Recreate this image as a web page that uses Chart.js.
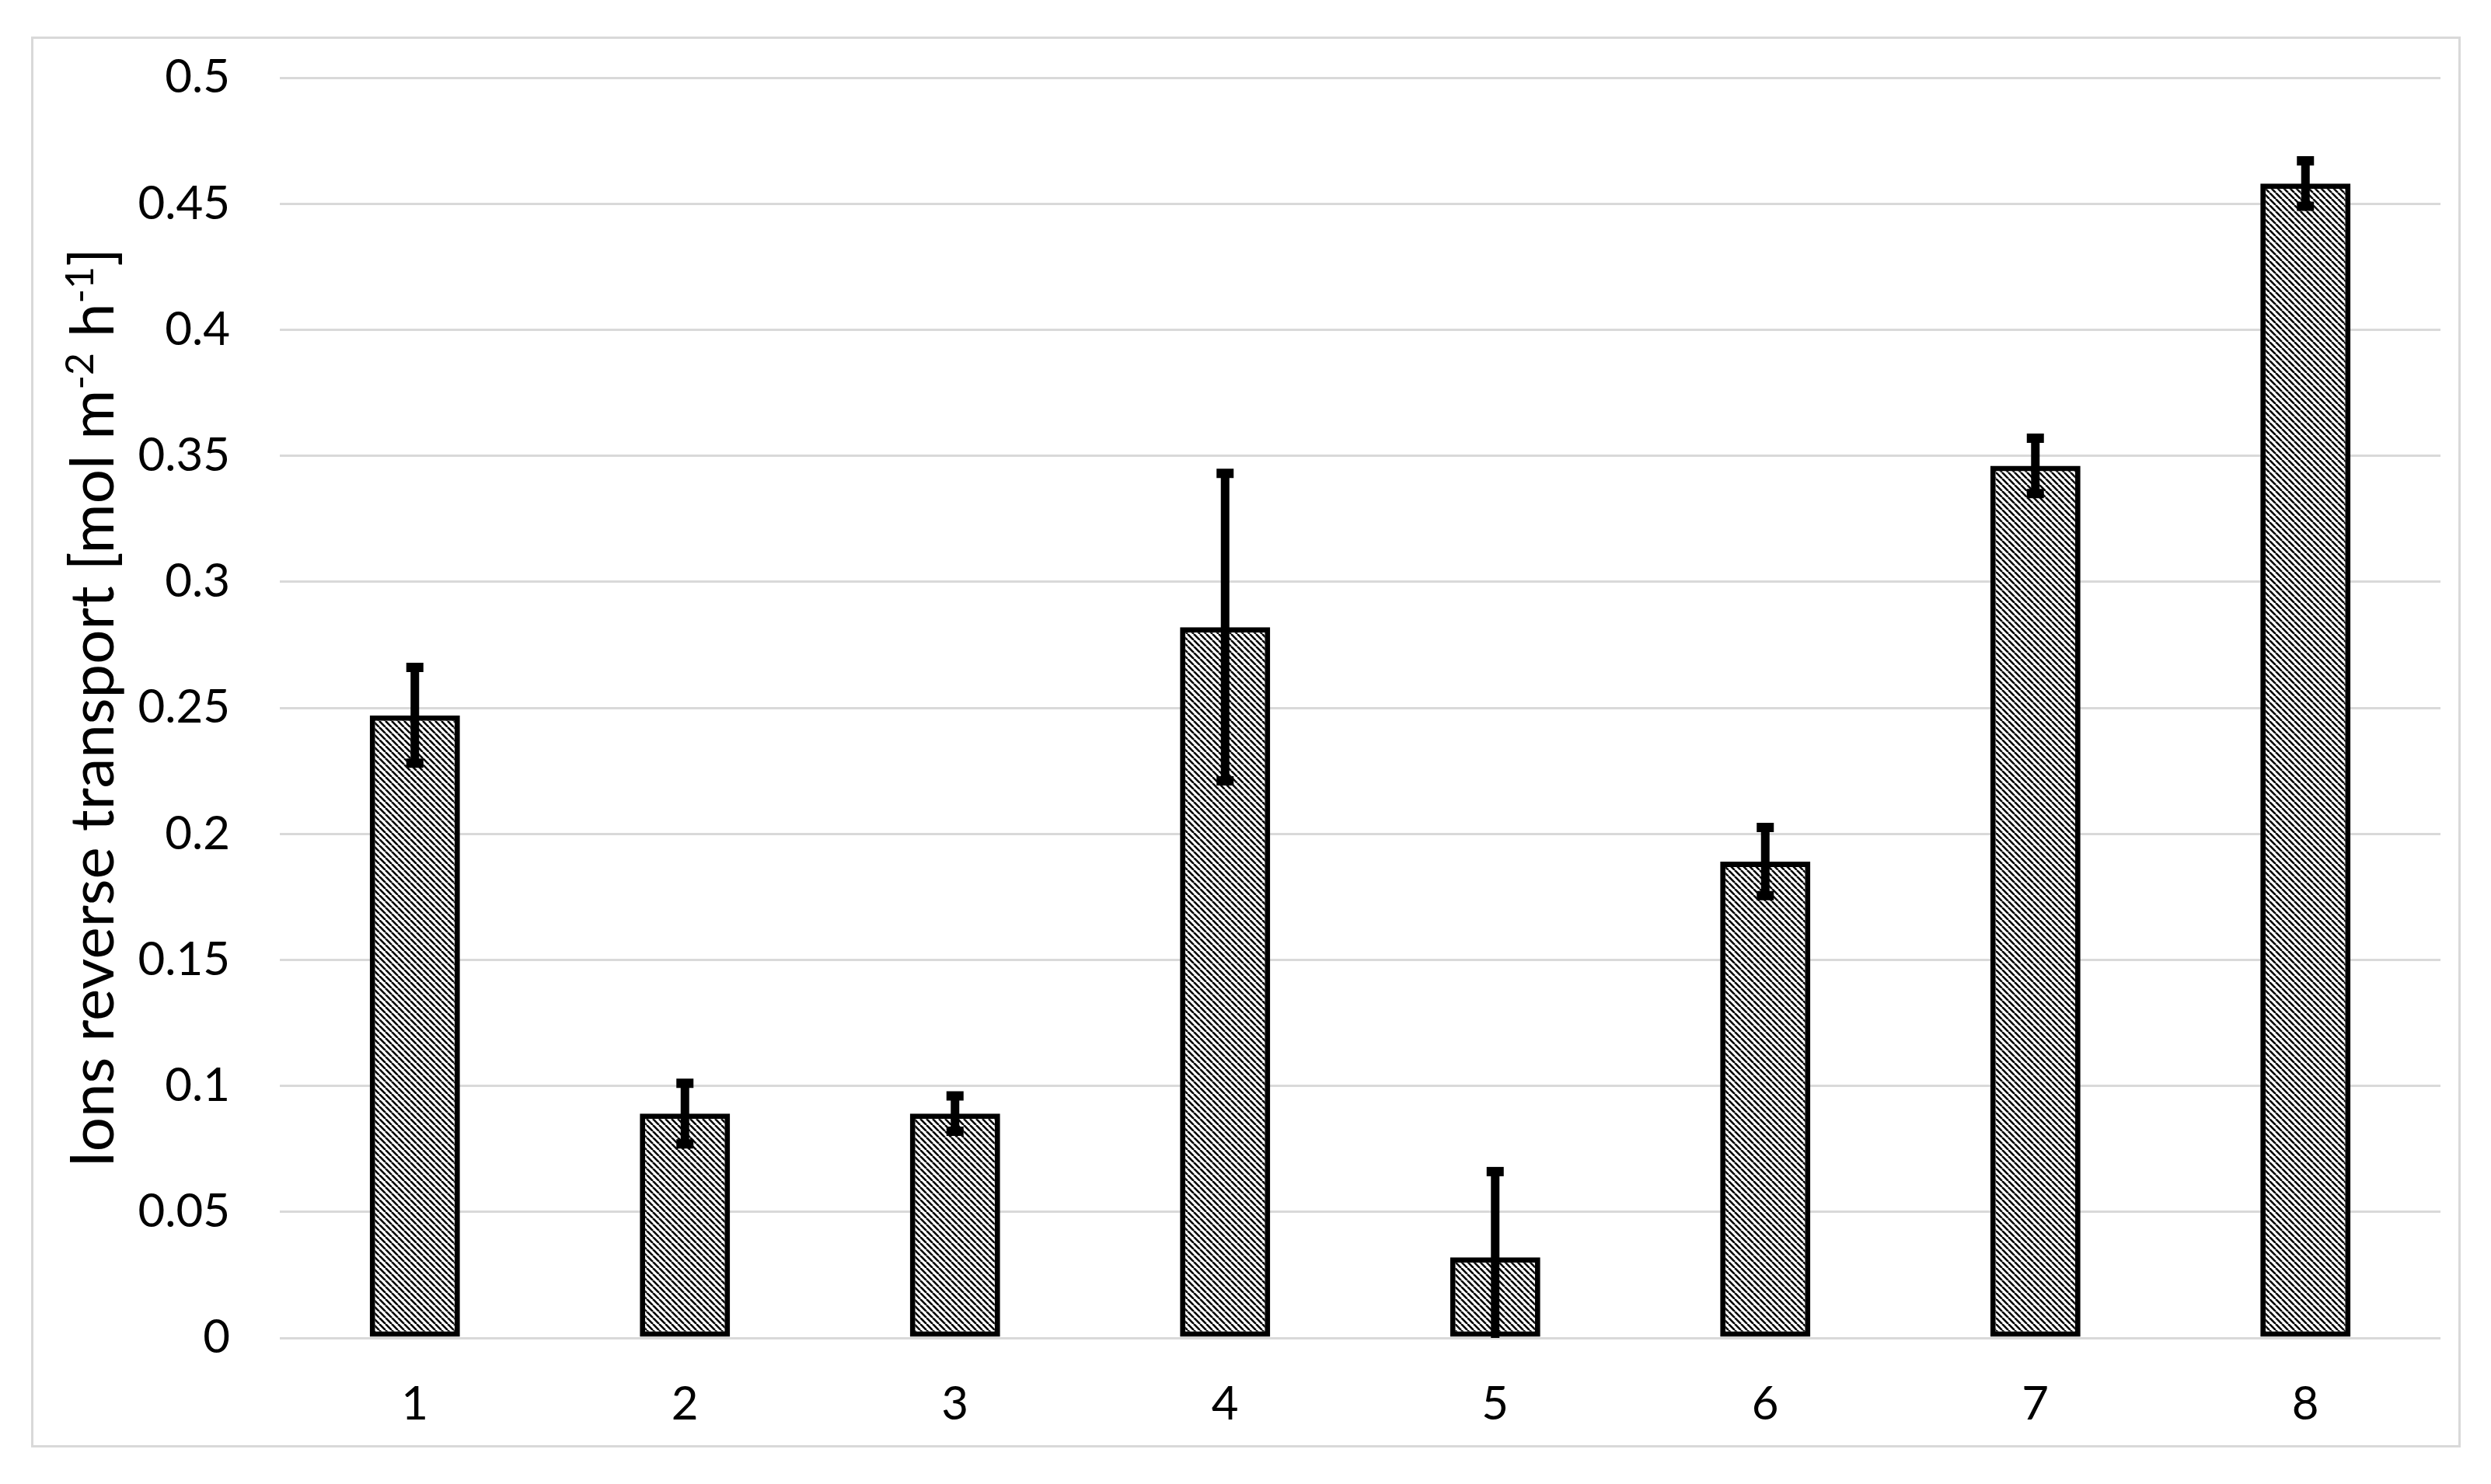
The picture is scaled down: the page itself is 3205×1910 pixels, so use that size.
<!DOCTYPE html>
<html>
<head>
<meta charset="utf-8">
<script src="https://cdn.jsdelivr.net/npm/chart.js@4.4.1/dist/chart.umd.min.js"></script>
<style>
  html, body { margin: 0; padding: 0; background: #ffffff; }
  #wrap { width: 3205px; height: 1910px; position: relative; }
</style>
</head>
<body>
<div id="wrap"><canvas id="c" width="3205" height="1910"></canvas></div>
<script>
// ---- data ----
const categories = ["1", "2", "3", "4", "5", "6", "7", "8"];
const values = [0.247, 0.089, 0.089, 0.282, 0.032, 0.189, 0.346, 0.458];
const errors = [0.019, 0.012, 0.007, 0.061, 0.034, 0.0135, 0.011, 0.009];
const yTickLabels = ["0", "0.05", "0.1", "0.15", "0.2", "0.25", "0.3", "0.35", "0.4", "0.45", "0.5"];
const yTitleParts = [
  { text: "Ions reverse transport [mol m", sup: false },
  { text: "-2", sup: true },
  { text: " h", sup: false },
  { text: "-1", sup: true },
  { text: "]", sup: false }
];

const FONT = "Lato, 'Open Sans', sans-serif";

// hatch pattern ("\" diagonal lines)
function makeHatch() {
  const s = 8;
  const pc = document.createElement('canvas');
  pc.width = s; pc.height = s;
  const g = pc.getContext('2d');
  g.fillStyle = '#ffffff';
  g.fillRect(0, 0, s, s);
  g.strokeStyle = '#000000';
  g.lineWidth = 2.6;
  g.beginPath();
  for (let k = -1; k <= 1; k++) {
    g.moveTo(k * s, 0);
    g.lineTo(k * s + s, s);
  }
  g.stroke();
  return g.createPattern(pc, 'repeat');
}

const framePlugin = {
  id: 'frame',
  beforeDraw(chart) {
    const ctx = chart.ctx;
    ctx.save();
    ctx.fillStyle = '#ffffff';
    ctx.fillRect(0, 0, chart.width, chart.height);
    ctx.strokeStyle = '#d9d9d9';
    ctx.lineWidth = 3;
    ctx.strokeRect(41.5, 48.5, 3164 - 41, 1861 - 48);
    ctx.restore();
  }
};

const errorBarPlugin = {
  id: 'errorBars',
  afterDatasetsDraw(chart) {
    const ctx = chart.ctx;
    const meta = chart.getDatasetMeta(0);
    const ys = chart.scales.y;
    const area = chart.chartArea;
    ctx.save();
    ctx.beginPath();
    ctx.rect(area.left, area.top - 40, area.right - area.left, area.bottom - area.top + 40);
    ctx.clip();
    ctx.strokeStyle = '#000000';
    meta.data.forEach((bar, i) => {
      const x = bar.x;
      const yTop = ys.getPixelForValue(values[i] + errors[i]);
      const yBot = ys.getPixelForValue(Math.max(values[i] - errors[i], -0.01));
      ctx.lineCap = 'butt';
      ctx.lineWidth = 11;
      ctx.beginPath();
      ctx.moveTo(x, yTop);
      ctx.lineTo(x, Math.min(yBot, area.bottom));
      ctx.stroke();
      ctx.lineWidth = 12;
      ctx.beginPath();
      ctx.moveTo(x - 11, yTop);
      ctx.lineTo(x + 11, yTop);
      if (values[i] - errors[i] >= 0) {
        ctx.moveTo(x - 11, yBot);
        ctx.lineTo(x + 11, yBot);
      }
      ctx.stroke();
    });
    ctx.restore();
  }
};

const yTitlePlugin = {
  id: 'yTitle',
  afterDraw(chart) {
    const ctx = chart.ctx;
    const area = chart.chartArea;
    const size = 78;
    const supSize = 50;
    const mainFont = size + "px " + FONT;
    const supFont = supSize + "px " + FONT;
    ctx.save();
    let total = 0;
    yTitleParts.forEach(p => {
      ctx.font = p.sup ? supFont : mainFont;
      total += ctx.measureText(p.text).width;
    });
    const cx = 118;
    const cy = (area.top + area.bottom) / 2;
    ctx.translate(cx, cy);
    ctx.rotate(-Math.PI / 2);
    ctx.fillStyle = '#000000';
    ctx.textBaseline = 'alphabetic';
    ctx.textAlign = 'left';
    let x = -total / 2;
    const base = size * 0.36;
    yTitleParts.forEach(p => {
      ctx.font = p.sup ? supFont : mainFont;
      ctx.fillText(p.text, x, p.sup ? base - size * 0.33 : base);
      x += ctx.measureText(p.text).width;
    });
    ctx.restore();
  }
};

const ctx = document.getElementById('c').getContext('2d');
new Chart(ctx, {
  type: 'bar',
  data: {
    labels: categories,
    datasets: [{
      data: values,
      backgroundColor: makeHatch(),
      borderColor: '#000000',
      borderWidth: 7,
      borderSkipped: false,
      barPercentage: 1.0,
      categoryPercentage: 0.334
    }]
  },
  options: {
    responsive: false,
    animation: false,
    devicePixelRatio: 1,
    layout: { padding: { left: 0, right: 65, top: 100, bottom: 0 } },
    plugins: {
      legend: { display: false },
      tooltip: { enabled: false },
      title: { display: false }
    },
    scales: {
      x: {
        grid: { display: false, drawTicks: false },
        border: { display: false },
        ticks: {
          color: '#000000',
          font: { family: FONT, size: 60 },
          padding: 50
        },
        afterFit(scale) { scale.height = 188; }
      },
      y: {
        min: 0,
        max: 0.5,
        grid: { color: '#d9d9d9', lineWidth: 3, drawTicks: false },
        border: { display: false },
        ticks: {
          stepSize: 0.05,
          color: '#000000',
          font: { family: FONT, size: 60 },
          padding: 64,
          callback: (v, i) => yTickLabels[i]
        },
        afterFit(scale) { scale.width = 360; }
      }
    }
  },
  plugins: [framePlugin, errorBarPlugin, yTitlePlugin]
});
</script>
</body>
</html>
